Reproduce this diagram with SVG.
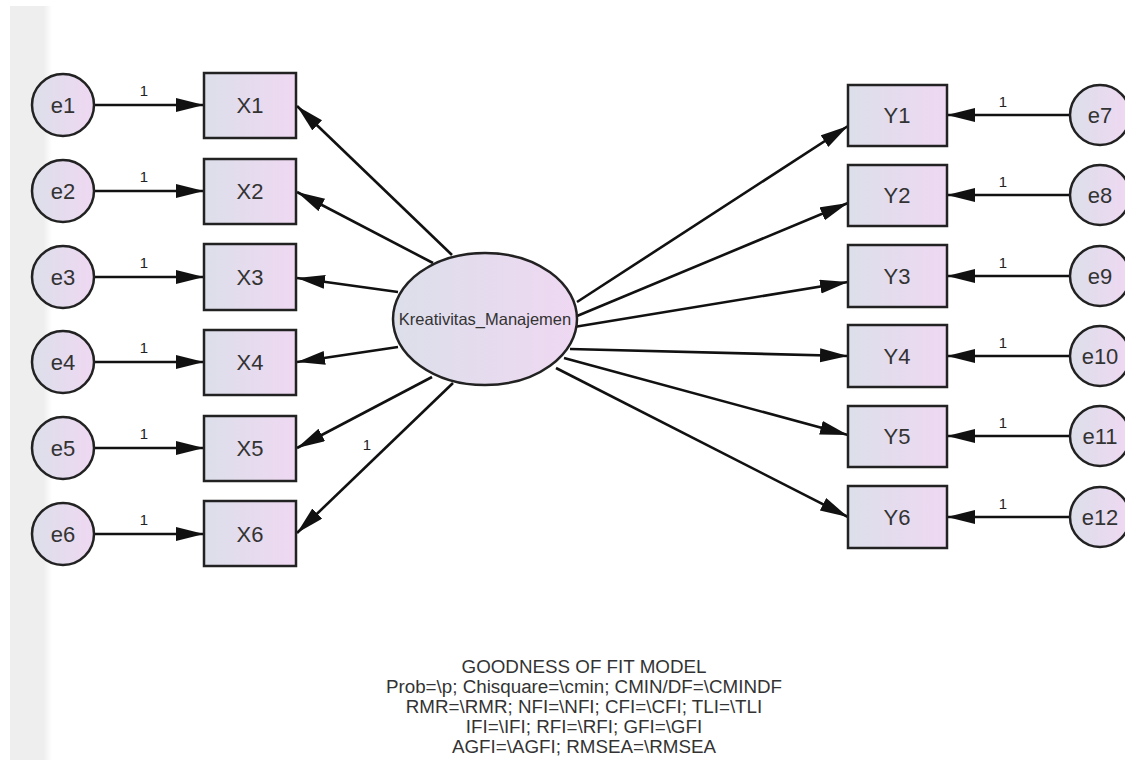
<svg xmlns="http://www.w3.org/2000/svg" width="1125" height="760" viewBox="0 0 1125 760">
<style>
.node{fill:url(#g);stroke:#222;stroke-width:2.5}
.lbl{font-family:"Liberation Sans",Arial,sans-serif;font-size:22px;fill:#333;text-anchor:middle;dominant-baseline:central}
.w{font-family:"Liberation Sans",Arial,sans-serif;font-size:15px;fill:#222;text-anchor:middle}
.c{stroke:#111;stroke-width:2.6;fill:none;marker-end:url(#a)}
.fit{font-family:"Liberation Sans",Arial,sans-serif;font-size:18.8px;fill:#333;text-anchor:middle}
</style>
<defs>
<linearGradient id="g" x1="0" y1="0" x2="1" y2="0">
<stop offset="0" stop-color="#dcdfea"/>
<stop offset="1" stop-color="#efd8f2"/>
</linearGradient>
<linearGradient id="bar" x1="0" y1="0" x2="1" y2="0">
<stop offset="0.8" stop-color="#eeeeee"/>
<stop offset="1" stop-color="#ffffff"/>
</linearGradient>
<marker id="a" markerUnits="userSpaceOnUse" markerWidth="30" markerHeight="16" refX="28" refY="7" orient="auto">
<path d="M0,0 L28,7 L0,14 z" fill="#111"/>
</marker>
</defs>
<rect x="0" y="0" width="1125" height="760" fill="#fff"/>
<rect x="10" y="6" width="42" height="754" fill="url(#bar)"/>

<g id="connectors">
<line class="c" x1="94" y1="105" x2="204" y2="105"/>
<line class="c" x1="94" y1="191" x2="204" y2="191"/>
<line class="c" x1="94" y1="277" x2="204" y2="277"/>
<line class="c" x1="94" y1="362" x2="204" y2="362"/>
<line class="c" x1="94" y1="448" x2="204" y2="448"/>
<line class="c" x1="94" y1="534" x2="204" y2="534"/>
<line class="c" x1="452" y1="255" x2="297" y2="106"/>
<line class="c" x1="433" y1="263" x2="297" y2="192"/>
<line class="c" x1="398" y1="292" x2="297" y2="278"/>
<line class="c" x1="398" y1="347" x2="297" y2="362"/>
<line class="c" x1="432" y1="377" x2="297" y2="448"/>
<line class="c" x1="453" y1="383" x2="297" y2="533"/>
<line class="c" x1="577" y1="302" x2="848" y2="126"/>
<line class="c" x1="577" y1="316" x2="848" y2="203"/>
<line class="c" x1="574" y1="327" x2="848" y2="282"/>
<line class="c" x1="570" y1="349" x2="848" y2="356"/>
<line class="c" x1="564" y1="358" x2="848" y2="435"/>
<line class="c" x1="556" y1="368" x2="848" y2="517"/>
<line class="c" x1="1070" y1="115" x2="947" y2="115"/>
<line class="c" x1="1070" y1="195" x2="947" y2="195"/>
<line class="c" x1="1070" y1="276" x2="947" y2="276"/>
<line class="c" x1="1070" y1="356" x2="947" y2="356"/>
<line class="c" x1="1070" y1="436" x2="947" y2="436"/>
<line class="c" x1="1070" y1="517" x2="947" y2="517"/>
<text class="w" x="144" y="96">1</text>
<text class="w" x="144" y="182">1</text>
<text class="w" x="144" y="268">1</text>
<text class="w" x="144" y="353">1</text>
<text class="w" x="144" y="439">1</text>
<text class="w" x="144" y="525">1</text>
<text class="w" x="367" y="450">1</text>
<text class="w" x="1003" y="107">1</text>
<text class="w" x="1003" y="187">1</text>
<text class="w" x="1003" y="268">1</text>
<text class="w" x="1003" y="348">1</text>
<text class="w" x="1003" y="428">1</text>
<text class="w" x="1003" y="509">1</text>
</g>

<g id="e1"><circle class="node" cx="63" cy="105" r="31"/><text class="lbl" x="63" y="105">e1</text></g>
<g id="e2"><circle class="node" cx="63" cy="191" r="31"/><text class="lbl" x="63" y="191">e2</text></g>
<g id="e3"><circle class="node" cx="63" cy="277" r="31"/><text class="lbl" x="63" y="277">e3</text></g>
<g id="e4"><circle class="node" cx="63" cy="362" r="31"/><text class="lbl" x="63" y="362">e4</text></g>
<g id="e5"><circle class="node" cx="63" cy="448" r="31"/><text class="lbl" x="63" y="448">e5</text></g>
<g id="e6"><circle class="node" cx="63" cy="534" r="31"/><text class="lbl" x="63" y="534">e6</text></g>

<g id="X1"><rect class="node" x="204" y="73" width="92" height="65"/><text class="lbl" x="250" y="105">X1</text></g>
<g id="X2"><rect class="node" x="204" y="159" width="92" height="65"/><text class="lbl" x="250" y="191">X2</text></g>
<g id="X3"><rect class="node" x="204" y="244" width="92" height="66"/><text class="lbl" x="250" y="277">X3</text></g>
<g id="X4"><rect class="node" x="204" y="330" width="92" height="65"/><text class="lbl" x="250" y="362">X4</text></g>
<g id="X5"><rect class="node" x="204" y="416" width="92" height="65"/><text class="lbl" x="250" y="448">X5</text></g>
<g id="X6"><rect class="node" x="204" y="501" width="92" height="65"/><text class="lbl" x="250" y="534">X6</text></g>

<g id="Kreativitas_Manajemen"><ellipse class="node" cx="485" cy="319" rx="92" ry="66"/><text class="lbl" x="485" y="319" style="font-size:16.5px">Kreativitas_Manajemen</text></g>

<g id="Y1"><rect class="node" x="848" y="85" width="99" height="61"/><text class="lbl" x="897" y="115">Y1</text></g>
<g id="Y2"><rect class="node" x="848" y="165" width="99" height="61"/><text class="lbl" x="897" y="195">Y2</text></g>
<g id="Y3"><rect class="node" x="848" y="245" width="99" height="62"/><text class="lbl" x="897" y="276">Y3</text></g>
<g id="Y4"><rect class="node" x="848" y="325" width="99" height="62"/><text class="lbl" x="897" y="356">Y4</text></g>
<g id="Y5"><rect class="node" x="848" y="406" width="99" height="61"/><text class="lbl" x="897" y="436">Y5</text></g>
<g id="Y6"><rect class="node" x="848" y="486" width="99" height="62"/><text class="lbl" x="897" y="517">Y6</text></g>

<g id="e7"><circle class="node" cx="1100" cy="115" r="30"/><text class="lbl" x="1100" y="115">e7</text></g>
<g id="e8"><circle class="node" cx="1100" cy="195" r="30"/><text class="lbl" x="1100" y="195">e8</text></g>
<g id="e9"><circle class="node" cx="1100" cy="276" r="30"/><text class="lbl" x="1100" y="276">e9</text></g>
<g id="e10"><circle class="node" cx="1100" cy="356" r="30"/><text class="lbl" x="1100" y="356">e10</text></g>
<g id="e11"><circle class="node" cx="1100" cy="436" r="30"/><text class="lbl" x="1100" y="436">e11</text></g>
<g id="e12"><circle class="node" cx="1100" cy="517" r="30"/><text class="lbl" x="1100" y="517">e12</text></g>

<g id="fit">
<text class="fit" x="584" y="673">GOODNESS OF FIT MODEL</text>
<text class="fit" x="584" y="693">Prob=\p; Chisquare=\cmin; CMIN/DF=\CMINDF</text>
<text class="fit" x="584" y="713">RMR=\RMR; NFI=\NFI; CFI=\CFI; TLI=\TLI</text>
<text class="fit" x="584" y="733">IFI=\IFI; RFI=\RFI; GFI=\GFI</text>
<text class="fit" x="584" y="753">AGFI=\AGFI; RMSEA=\RMSEA</text>
</g>
</svg>
